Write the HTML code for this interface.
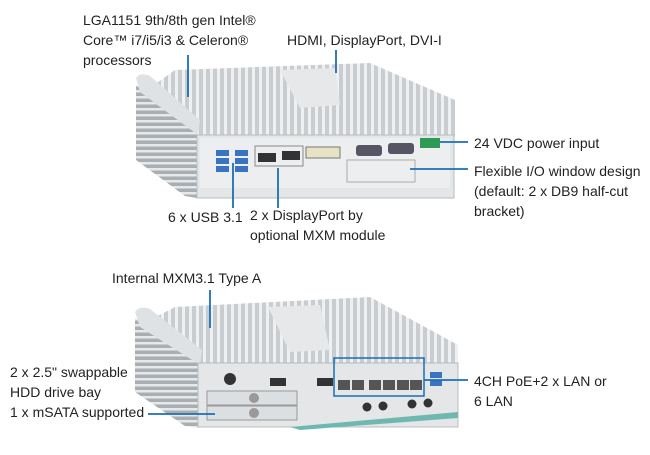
<!DOCTYPE html>
<html><head><style>
body{margin:0;background:#fff;width:650px;height:455px;overflow:hidden;position:relative;font-family:"Liberation Sans Narrow","Liberation Sans",sans-serif;}
.t{position:absolute;font-size:14px;line-height:20px;color:#222;white-space:nowrap;}
svg{position:absolute;left:0;top:0}
</style></head><body>
<svg width="650" height="455" viewBox="0 0 650 455">
<defs>
<pattern id="fin" width="7" height="10" patternUnits="userSpaceOnUse"><rect width="7" height="10" fill="#c9cdd0"/><rect width="3" height="10" fill="#eef0f1"/></pattern>
<pattern id="sfin" width="10" height="6" patternUnits="userSpaceOnUse"><rect width="10" height="6" fill="#a9aeb2"/><rect width="10" height="2.5" fill="#e6e8ea"/></pattern>
</defs>
<!-- top device -->
<polygon points="175,70 370,63 455,100 455,137 197,137 140,95" fill="url(#fin)"/>
<polygon points="136,85 197,130 197,198 185,196 136,160" fill="url(#sfin)"/>
<path d="M136,78 Q140,72 150,76 L200,120 L198,135 L140,92 Z" fill="#dfe2e4"/>
<path d="M280,70 L335,68 L340,105 L300,108 Z" fill="#e6e8ea"/>
<rect x="197" y="135" width="257" height="63" fill="#e4e6e8" stroke="#b8bcbf"/>
<rect x="200" y="138" width="250" height="50" fill="#eceef0"/>
<g fill="#3a74c0"><rect x="216" y="158" width="13" height="6"/><rect x="216" y="166" width="13" height="6"/><rect x="235" y="158" width="13" height="6"/><rect x="235" y="166" width="13" height="6"/><rect x="216" y="150" width="13" height="6"/><rect x="235" y="150" width="13" height="6"/></g>
<rect x="255" y="146" width="48" height="20" fill="none" stroke="#888" stroke-width="1"/>
<rect x="258" y="153" width="18" height="9" fill="#333"/><rect x="282" y="151" width="18" height="9" fill="#333"/>
<rect x="306" y="147" width="34" height="11" fill="#e8e2c4" stroke="#777"/>
<rect x="356" y="145" width="26" height="11" rx="3" fill="#556" /><rect x="388" y="143" width="26" height="11" rx="3" fill="#556"/>
<rect x="420" y="138" width="20" height="10" fill="#2f9a55"/>
<rect x="347" y="160" width="68" height="22" fill="none" stroke="#aaa"/>
<!-- bottom device -->
<polygon points="175,307 370,297 458,345 458,366 198,366 140,325" fill="url(#fin)"/>
<polygon points="135,318 198,360 198,428 185,426 135,392" fill="url(#sfin)"/>
<path d="M135,312 Q140,305 150,309 L202,350 L200,365 L140,327 Z" fill="#dfe2e4"/>
<path d="M268,307 L320,305 L330,350 L290,352 Z" fill="#e6e8ea"/>
<rect x="198" y="363" width="260" height="64" fill="#e4e6e8" stroke="#b8bcbf"/>
<path d="M290,427 L458,412 L458,418 L300,430 Z" fill="#6fb8b0"/>
<rect x="207" y="391" width="90" height="14" fill="#dcdfe1" stroke="#999"/>
<rect x="207" y="406" width="90" height="14" fill="#dcdfe1" stroke="#999"/>
<circle cx="254" cy="398" r="5" fill="#999"/><circle cx="254" cy="413" r="5" fill="#999"/>
<circle cx="230" cy="379" r="6" fill="#333"/>
<rect x="270" y="378" width="16" height="8" fill="#333"/>
<rect x="317" y="378" width="16" height="8" fill="#333"/>
<rect x="334" y="358" width="90" height="38" fill="none" stroke="#1a6fb5" stroke-width="1.5"/>
<g fill="#555"><rect x="338" y="380" width="12" height="10"/><rect x="352" y="380" width="12" height="10"/><rect x="369" y="380" width="12" height="10"/><rect x="383" y="380" width="12" height="10"/><rect x="397" y="380" width="12" height="10"/><rect x="410" y="380" width="12" height="10"/></g>
<rect x="430" y="372" width="12" height="6" fill="#3a74c0"/><rect x="430" y="380" width="12" height="6" fill="#3a74c0"/>
<g fill="#333"><circle cx="367" cy="407" r="4.5"/><circle cx="383" cy="406" r="4.5"/><circle cx="412" cy="404" r="4.5"/><circle cx="428" cy="403" r="4.5"/></g>
<!-- callout lines -->
<g stroke="#1a6fb5" stroke-width="1.8" fill="none">
<line x1="188" y1="55" x2="188" y2="97"/>
<line x1="336" y1="50" x2="336" y2="73"/>
<line x1="440" y1="142" x2="468" y2="142"/>
<line x1="410" y1="169" x2="468" y2="169"/>
<line x1="233" y1="163" x2="233" y2="208"/>
<line x1="278" y1="168" x2="278" y2="208"/>
<line x1="210" y1="290" x2="210" y2="328"/>
<line x1="148" y1="414" x2="215" y2="414"/>
<line x1="424" y1="380" x2="468" y2="380"/>
</g>
</svg>
<div class="t" style="left:83px;top:10px">LGA1151 9th/8th gen Intel®<br>Core™ i7/i5/i3 &amp; Celeron®<br>processors</div>
<div class="t" style="left:287px;top:30px">HDMI, DisplayPort, DVI-I</div>
<div class="t" style="left:474px;top:133px">24 VDC power input</div>
<div class="t" style="left:474px;top:161px">Flexible I/O window design<br>(default: 2 x DB9 half-cut<br>bracket)</div>
<div class="t" style="left:168px;top:207px">6 x USB 3.1</div>
<div class="t" style="left:250px;top:205px">2 x DisplayPort by<br>optional MXM module</div>
<div class="t" style="left:112px;top:268px">Internal MXM3.1 Type A</div>
<div class="t" style="left:10px;top:362px">2 x 2.5" swappable<br>HDD drive bay<br>1 x mSATA supported</div>
<div class="t" style="left:474px;top:371px">4CH PoE+2 x LAN or<br>6 LAN</div>
</body></html>
